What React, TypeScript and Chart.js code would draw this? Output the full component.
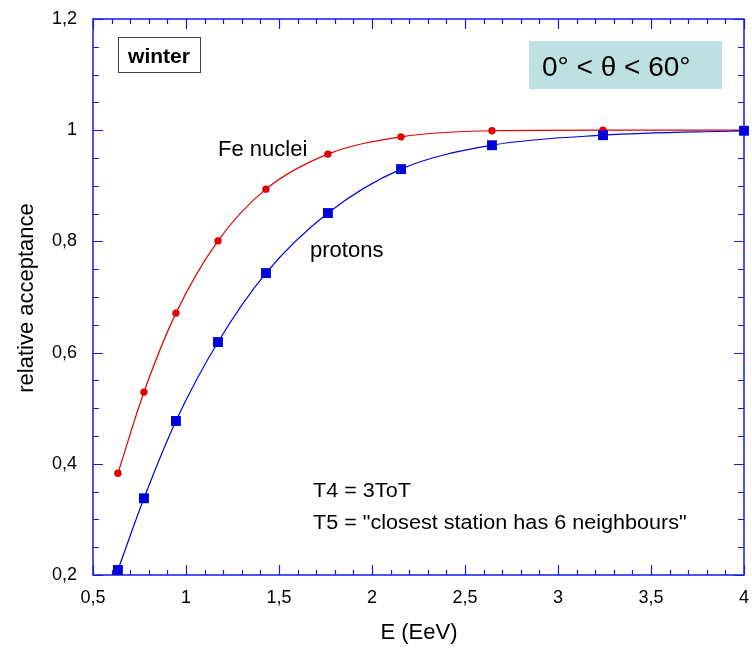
import React, { useEffect, useRef } from "react";
import { Chart, registerables } from "chart.js";

Chart.register(...registerables);

const energy = [0.634, 0.774, 0.946, 1.172, 1.43, 1.763, 2.156, 2.645, 3.242, 4.0];
const feAcceptance = [0.383, 0.529, 0.671, 0.801, 0.894, 0.957, 0.988, 0.999, 1.0, 1.0];
const protonAcceptance = [0.209, 0.338, 0.477, 0.619, 0.743, 0.851, 0.93, 0.973, 0.991, 0.999];
const xTickValues = [0.5, 1, 1.5, 2, 2.5, 3, 3.5, 4];
const yTickValues = [0.2, 0.4, 0.6, 0.8, 1.0, 1.2];

const FONT = "'Liberation Sans', Arial, sans-serif";
const AXIS_COLOR = "#1a1ae6";
const RED = "#e00000";
const BLUE = "#0000dd";

const fmt = (v: number) => String(Math.round(v * 10) / 10).replace(".", ",");

const framePlugin = {
  id: "frame",
  beforeDatasetsDraw(chart: any) {
    const { ctx, chartArea, scales } = chart;
    const { left, right, top, bottom } = chartArea;
    const x = scales.x;
    const y = scales.y;
    ctx.save();
    ctx.strokeStyle = AXIS_COLOR;
    ctx.lineWidth = 1.5;
    ctx.strokeRect(left, top, right - left, bottom - top);
    ctx.lineWidth = 1.2;
    ctx.beginPath();
    for (let i = 0; i <= 35; i++) {
      const v = 0.5 + i * 0.1;
      const px = Math.round(x.getPixelForValue(v)) + 0.5;
      const len = i % 5 === 0 ? 10 : 5;
      ctx.moveTo(px, bottom);
      ctx.lineTo(px, bottom - len);
      ctx.moveTo(px, top);
      ctx.lineTo(px, top + len);
    }
    for (let i = 0; i <= 20; i++) {
      const v = 0.2 + i * 0.05;
      const py = Math.round(y.getPixelForValue(v)) + 0.5;
      const len = i % 4 === 0 ? 10 : 6;
      ctx.moveTo(left, py);
      ctx.lineTo(left + len, py);
      ctx.moveTo(right, py);
      ctx.lineTo(right - len, py);
    }
    ctx.stroke();
    ctx.restore();
  },
  afterDraw(chart: any) {
    const { ctx } = chart;
    ctx.save();
    ctx.fillStyle = "#000";
    // winter box
    ctx.strokeStyle = "#444";
    ctx.lineWidth = 1;
    ctx.strokeRect(118.5, 37.5, 82, 35);
    ctx.font = `bold 21px ${FONT}`;
    ctx.textAlign = "center";
    ctx.textBaseline = "alphabetic";
    ctx.fillText("winter", 159, 63);
    // theta box
    ctx.fillStyle = "#bde0e3";
    ctx.fillRect(529, 41, 193, 48);
    ctx.fillStyle = "#000";
    ctx.font = `28px ${FONT}`;
    ctx.textAlign = "left";
    ctx.fillText("0° < θ < 60°", 542, 76);
    // curve labels
    ctx.font = `22px ${FONT}`;
    ctx.fillText("Fe nuclei", 218, 156);
    ctx.fillText("protons", 310, 257);
    // trigger labels
    ctx.font = `20px ${FONT}`;
    ctx.save();
    ctx.translate(313, 497);
    ctx.scale(1.08, 1);
    ctx.fillText("T4 = 3ToT", 0, 0);
    ctx.restore();
    ctx.save();
    ctx.translate(313, 529);
    ctx.scale(1.08, 1);
    ctx.fillText('T5 = "closest station has 6 neighbours"', 0, 0);
    ctx.restore();
    // axis titles
    ctx.font = `22px ${FONT}`;
    ctx.textAlign = "center";
    ctx.fillText("E (EeV)", 419, 639);
    ctx.save();
    ctx.translate(33, 298);
    ctx.rotate(-Math.PI / 2);
    ctx.fillText("relative acceptance", 0, 0);
    ctx.restore();
    ctx.restore();
  },
};

export default function App() {
  const canvasRef = useRef<HTMLCanvasElement | null>(null);

  useEffect(() => {
    const canvas = canvasRef.current;
    if (!canvas) return;
    const chart = new Chart(canvas, {
      type: "line",
      data: {
        datasets: [
          {
            label: "protons",
            data: energy.map((e, i) => ({ x: e, y: protonAcceptance[i] })),
            borderColor: BLUE,
            backgroundColor: BLUE,
            borderWidth: 1.2,
            pointStyle: "rect",
            pointRadius: 7,
            pointBorderWidth: 0,
            cubicInterpolationMode: "monotone",
            clip: false,
          },
          {
            label: "Fe nuclei",
            data: energy.map((e, i) => ({ x: e, y: feAcceptance[i] })),
            borderColor: RED,
            backgroundColor: RED,
            borderWidth: 1.2,
            pointStyle: "circle",
            pointRadius: 3.7,
            pointBorderWidth: 0,
            cubicInterpolationMode: "monotone",
            clip: false,
          },
        ],
      },
      options: {
        responsive: false,
        animation: false,
        events: [],
        layout: { padding: { top: 19, right: 8, left: 0, bottom: 0 } },
        plugins: {
          legend: { display: false },
          tooltip: { enabled: false },
        },
        scales: {
          x: {
            type: "linear",
            min: 0.5,
            max: 4,
            grid: { display: false, drawTicks: false },
            border: { display: false },
            afterBuildTicks: (scale: any) => {
              scale.ticks = xTickValues.map((v) => ({ value: v }));
            },
            afterFit: (scale: any) => {
              scale.height = 75;
              scale.paddingLeft = 0;
              scale.paddingRight = 0;
            },
            ticks: {
              padding: 12,
              color: "#000",
              font: { family: FONT, size: 18 },
              maxRotation: 0,
              autoSkip: false,
              callback: (v: any) => fmt(Number(v)),
            },
          },
          y: {
            type: "linear",
            min: 0.2,
            max: 1.2,
            grid: { display: false, drawTicks: false },
            border: { display: false },
            afterBuildTicks: (scale: any) => {
              scale.ticks = yTickValues.map((v) => ({ value: v }));
            },
            afterFit: (scale: any) => {
              scale.width = 93;
              scale.paddingTop = 0;
              scale.paddingBottom = 0;
            },
            ticks: {
              padding: 16,
              color: "#000",
              font: { family: FONT, size: 18 },
              autoSkip: false,
              callback: (v: any) => fmt(Number(v)),
            },
          },
        },
      },
      plugins: [framePlugin],
    } as any);
    return () => chart.destroy();
  }, []);

  return (
    <div style={{ position: "absolute", left: 0, top: 0, width: 752, height: 650, background: "#fff" }}>
      <canvas ref={canvasRef} width={752} height={650} style={{ display: "block", width: 752, height: 650 }} />
    </div>
  );
}
